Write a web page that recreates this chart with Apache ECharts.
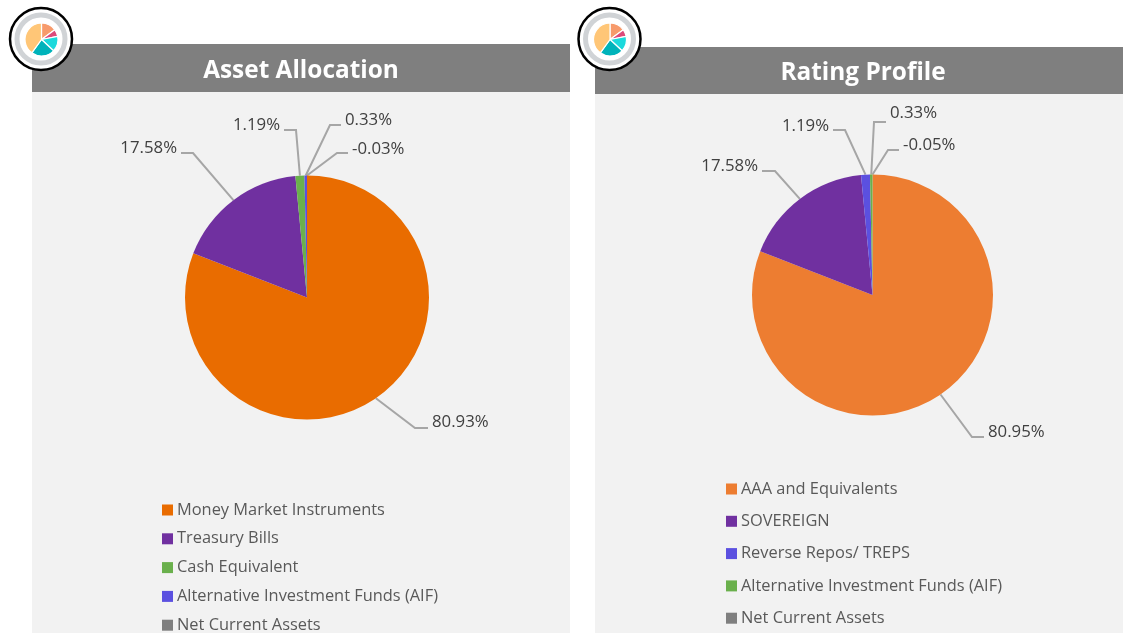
<!DOCTYPE html>
<html><head><meta charset="utf-8">
<style>html,body{margin:0;padding:0;background:#fff;overflow:hidden}#c{width:1123px;height:633px}</style>
<script src="https://cdn.jsdelivr.net/npm/echarts@6/dist/echarts.min.js"></script>
</head><body><div id="c"></div>
<script>
const FONT = '"Open Sans"';
const assetNames = ['Money Market Instruments','Treasury Bills','Cash Equivalent','Alternative Investment Funds (AIF)','Net Current Assets'];
const assetValues = [80.93,17.58,1.19,0.33,-0.03];
const assetColors = ['#E96C00','#7030A0','#6AB04C','#5B50E0','#7F7F7F'];
const ratingNames = ['AAA and Equivalents','SOVEREIGN','Reverse Repos/ TREPS','Alternative Investment Funds (AIF)','Net Current Assets'];
const ratingValues = [80.95,17.58,1.19,0.33,-0.05];
const ratingColors = ['#ED7D31','#7030A0','#5B50E0','#6AB04C','#7F7F7F'];
const logoNames = ['a','b','c','d','e'];
const logoValues = [15,7,15,23,40];
const logoColors = ['#F79A6B','#DC4A7A','#1BD9DC','#00B3BA','#FFC677'];

// label anchor [textX, textY, align] and leader elbow [x, y], per slice
const assetLabelPos = [[432,422,'left',[415,428]],[177,148,'right',[193,153]],[280,125,'right',[296,130]],[345,120,'left',[330,125]],[352,149,'left',[337,153]]];
const ratingLabelPos = [[988,432,'left',[972,437]],[758,166,'right',[775,171]],[829,126,'right',[845,130]],[890,113,'left',[874,122]],[903,145,'left',[888,150]]];

function pie(id, names, values, colors, center, r, pos){
  return {
    id, type:'pie', center, radius:[0,r], startAngle:90, clockwise:true, silent:true, animation:false,
    avoidLabelOverlap:false,
    // ECharts drops negative slices, so a negative share is drawn as an empty slice that keeps its label
    data:names.map((n,i)=>({name:n,value:Math.max(values[i],0),itemStyle:{color:colors[i]}})),
    label:{show:true,position:'outside',formatter:p=>values[p.dataIndex].toFixed(2)+'%',color:'#404040',fontSize:16.8,fontFamily:FONT},
    labelLine:{show:true,lineStyle:{color:'#A6A6A6',width:2}},
    labelLayout:p=>{
      const q=pos[p.dataIndex];
      const a=p.labelLinePoints?p.labelLinePoints[0]:q[3];
      return {x:q[0],y:q[1],align:q[2],verticalAlign:'middle',labelLinePoints:[a,q[3],[q[0]+(q[2]==='left'?-4:4),q[3][1]]]};
    }
  };
}
function logo(id,center){
  return {id,type:'pie',center,radius:[0,16.5],startAngle:90,silent:true,animation:false,z:10,
    data:logoNames.map((n,i)=>({name:id+n,value:logoValues[i],itemStyle:{color:logoColors[i],borderColor:'#fff',borderWidth:1.2}})),
    label:{show:false},labelLine:{show:false}};
}
function legend(names,colors,left,top,gap){
  return {orient:'vertical',left,top,height:200,itemWidth:11,itemHeight:11,itemGap:gap,icon:'rect',selectedMode:false,
    textStyle:{color:'#595959',fontSize:16.4,fontFamily:FONT,padding:[0,0,0,-1]},
    data:names.map((n,i)=>({name:n,itemStyle:{color:colors[i]}}))};
}
function panel(x,y,w,h,title){
  return [
    {type:'rect',z:-10,shape:{x,y,width:w,height:633-y},style:{fill:'#F2F2F2'}},
    {type:'rect',z:-9,shape:{x,y,width:w,height:h},style:{fill:'#7F7F7F'}},
    {type:'text',z:-8,style:{x:x+w/2,y:y+h/2+3,text:title,fill:'#fff',font:'bold 24.4px '+FONT,align:'center',verticalAlign:'middle'}}
  ];
}
function badge(cx,cy){
  return [
    {type:'circle',z:-5,shape:{cx,cy,r:31},style:{fill:'#fff',stroke:'#000',lineWidth:2.5}},
    {type:'circle',z:-4,shape:{cx,cy,r:24},style:{fill:'#fff',stroke:'#D0D3D6',lineWidth:5}}
  ];
}
const chart = echarts.init(document.getElementById('c'));
chart.setOption({
  backgroundColor:'#fff',animation:false,
  legend:[legend(assetNames,assetColors,157,497,12.8),legend(ratingNames,ratingColors,721,476,16.3)],
  series:[
    pie('asset',assetNames,assetValues,assetColors,[307,297.5],122,assetLabelPos),
    pie('rating',ratingNames,ratingValues,ratingColors,[872.5,295],120.5,ratingLabelPos),
    logo('l1',[41.5,39.5]),logo('l2',[610,39.5])
  ],
  graphic:[...panel(32,44,538,48,'Asset Allocation'),...panel(595,47,536,47,'Rating Profile'),...badge(41,39),...badge(609.5,39)]
});
</script></body></html>
